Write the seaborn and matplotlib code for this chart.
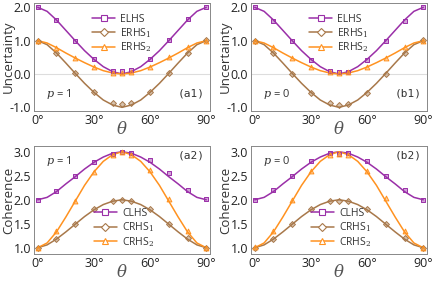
import matplotlib
matplotlib.use("Agg")
import matplotlib.pyplot as plt
import seaborn as sns
from matplotlib.colors import to_rgba
from matplotlib.lines import Line2D
from matplotlib.ticker import MultipleLocator

sns.set_theme(style="white")
plt.rcParams['font.family'] = ['Open Sans', 'DejaVu Sans']
plt.rcParams['mathtext.fontset'] = 'dejavuserif'

PURPLE = '#9a2fa8'
BROWN = '#a8784a'
ORANGE = '#ff9220'

# smooth theory curves, read every 5 degrees
theta_curve = [0, 5, 10, 15, 20, 25, 30, 35, 40, 45, 50, 55, 60, 65, 70, 75, 80, 85, 90]
elhs_curve = [2.00, 1.88, 1.62, 1.31, 1.00, 0.70, 0.44, 0.22, 0.07, 0.00,
              0.07, 0.22, 0.44, 0.70, 1.00, 1.31, 1.62, 1.88, 2.00]
erhs1_curve = [1.00, 0.88, 0.63, 0.33, 0.02, -0.28, -0.55, -0.78, -0.93, -1.00,
               -0.93, -0.78, -0.55, -0.28, 0.02, 0.33, 0.63, 0.88, 1.00]
erhs2_curve = [1.00, 0.93, 0.79, 0.63, 0.48, 0.34, 0.21, 0.10, 0.03, 0.00,
               0.03, 0.10, 0.21, 0.34, 0.48, 0.63, 0.79, 0.93, 1.00]
clhs_curve = [2.00, 2.05, 2.17, 2.33, 2.48, 2.64, 2.78, 2.89, 2.97, 3.00,
              2.97, 2.89, 2.78, 2.64, 2.48, 2.33, 2.17, 2.05, 2.00]
crhs1_curve = [1.00, 1.06, 1.18, 1.33, 1.49, 1.65, 1.79, 1.90, 1.97, 2.00,
               1.97, 1.90, 1.79, 1.65, 1.49, 1.33, 1.18, 1.06, 1.00]
crhs2_curve = [1.00, 1.10, 1.33, 1.64, 1.97, 2.30, 2.58, 2.80, 2.94, 3.00,
               2.94, 2.80, 2.58, 2.30, 1.97, 1.64, 1.33, 1.10, 1.00]

# experimental points
theta_pts = [0, 10, 20, 30, 40, 45, 50, 60, 70, 80, 90]
a1_elhs = [2.00, 1.62, 1.00, 0.44, 0.09, 0.08, 0.11, 0.45, 1.03, 1.64, 2.00]
a1_erhs1 = [1.00, 0.63, 0.02, -0.55, -0.88, -0.90, -0.88, -0.55, 0.02, 0.63, 1.03]
a1_erhs2 = [1.00, 0.79, 0.48, 0.22, 0.04, 0.03, 0.05, 0.22, 0.50, 0.80, 1.00]
b1_elhs = [2.00, 1.60, 1.00, 0.43, 0.08, 0.07, 0.07, 0.42, 0.98, 1.60, 2.00]
b1_erhs1 = [1.00, 0.63, 0.00, -0.58, -0.88, -0.92, -0.90, -0.58, 0.00, 0.62, 1.03]
b1_erhs2 = [1.00, 0.80, 0.48, 0.22, 0.05, 0.04, 0.05, 0.20, 0.48, 0.80, 1.00]
a2_clhs = [2.00, 2.19, 2.49, 2.78, 2.96, 2.99, 2.97, 2.83, 2.55, 2.21, 2.01]
a2_crhs1 = [1.00, 1.19, 1.50, 1.80, 1.97, 1.99, 1.97, 1.80, 1.50, 1.20, 1.00]
a2_crhs2 = [1.00, 1.35, 1.97, 2.57, 2.93, 2.99, 2.93, 2.61, 2.02, 1.35, 1.00]
b2_clhs = [2.00, 2.20, 2.50, 2.80, 2.97, 2.96, 2.97, 2.80, 2.50, 2.20, 1.99]
b2_crhs1 = [1.00, 1.19, 1.50, 1.80, 1.97, 1.98, 1.97, 1.80, 1.50, 1.20, 1.00]
b2_crhs2 = [1.02, 1.35, 2.00, 2.60, 2.93, 2.95, 2.93, 2.60, 2.03, 1.35, 1.00]

x_ticks = [0, 30, 60, 90]
x_ticklabels = ['0°', '30°', '60°', '90°']


def draw_panel(ax, curves, points, names, ylim, yticks, ylabel, ptext, tag,
               top_text, legend_loc, legend_anchor):
    colors = [PURPLE, BROWN, ORANGE]
    markers = ['s', 'D', '^']
    msizes = [10, 9, 12]
    for ycurve, ypts, c, m, ms in zip(curves, points, colors, markers, msizes):
        sns.lineplot(x=theta_curve, y=ycurve, ax=ax, color=c, lw=1.1)
        sns.scatterplot(x=theta_pts, y=ypts, ax=ax, marker=m, s=ms,
                        color=to_rgba(c, 0.45), edgecolor=c, linewidth=0.7, zorder=4)
    ax.set_xlim(-2, 92)
    ax.set_ylim(*ylim)
    ax.set_xticks(x_ticks)
    ax.set_xticklabels(x_ticklabels)
    ax.xaxis.set_minor_locator(MultipleLocator(10))
    ax.set_yticks(yticks)
    ax.set_yticklabels([f'{v:.1f}' for v in yticks])
    ax.yaxis.set_minor_locator(MultipleLocator(0.5 if yticks[1] - yticks[0] == 1 else 0.25))
    ax.tick_params(which='both', direction='in', colors='#555555', labelcolor='#222222',
                   labelsize=9, top=False, right=False, pad=2)
    ax.tick_params(which='major', length=3, width=0.6)
    ax.tick_params(which='minor', length=2, width=0.5)
    for sp in ax.spines.values():
        sp.set_color('#888888')
        sp.set_linewidth(0.7)
    ax.set_xlabel(r'$\theta$', fontsize=12, color='#555555', labelpad=-4)
    ax.set_ylabel(ylabel, fontsize=9.5, color='#333333')
    ax.yaxis.set_label_coords(-0.108, 0.5)
    if top_text:
        ax.text(0.07, 0.86, ptext, transform=ax.transAxes, fontsize=8, color='#333333',
                va='center')
        ax.text(0.97, 0.91, tag, transform=ax.transAxes, fontsize=8, color='#333333',
                ha='right', va='center', family='DejaVu Sans Mono')
    else:
        ax.text(0.07, 0.16, ptext, transform=ax.transAxes, fontsize=8, color='#333333',
                va='center')
        ax.text(0.97, 0.16, tag, transform=ax.transAxes, fontsize=8, color='#333333',
                ha='right', va='center', family='DejaVu Sans Mono')
    handles = [Line2D([0], [0], color=c, lw=1.1, marker=m, markersize=4,
                      markerfacecolor='white', markeredgecolor=c, markeredgewidth=0.8)
               for c, m in zip(colors, markers)]
    ax.legend(handles, names, loc=legend_loc, bbox_to_anchor=legend_anchor,
              frameon=False, fontsize=7.5, handlelength=2.2, handletextpad=0.5,
              labelspacing=0.12, borderaxespad=0, borderpad=0, labelcolor='#333333')


fig = plt.figure(figsize=(4.36, 2.81), dpi=100)
w, h = 176 / 436, 108 / 281
ax_a1 = fig.add_axes([34 / 436, 1 - 111 / 281, w, h])
ax_b1 = fig.add_axes([251 / 436, 1 - 111 / 281, w, h])
ax_a2 = fig.add_axes([34 / 436, 1 - 254 / 281, w, h])
ax_b2 = fig.add_axes([251 / 436, 1 - 254 / 281, w, h])

up_names = ['ELHS', r'ERHS$_1$', r'ERHS$_2$']
co_names = ['CLHS', r'CRHS$_1$', r'CRHS$_2$']
up_curves = [elhs_curve, erhs1_curve, erhs2_curve]
co_curves = [clhs_curve, crhs1_curve, crhs2_curve]

for ax in (ax_a1, ax_b1):
    ax.axhline(0, color='#dddddd', lw=0.8, zorder=0)

draw_panel(ax_a1, up_curves, [a1_elhs, a1_erhs1, a1_erhs2], up_names,
           (-1.11, 2.13), [-1.0, 0.0, 1.0, 2.0], 'Uncertainty', r'$p$ = 1', '(a1)',
           False, 'upper left', (0.33, 0.90))
draw_panel(ax_b1, up_curves, [b1_elhs, b1_erhs1, b1_erhs2], up_names,
           (-1.11, 2.13), [-1.0, 0.0, 1.0, 2.0], 'Uncertainty', r'$p$ = 0', '(b1)',
           False, 'upper left', (0.33, 0.90))
draw_panel(ax_a2, co_curves, [a2_clhs, a2_crhs1, a2_crhs2], co_names,
           (0.87, 3.12), [1.0, 1.5, 2.0, 2.5, 3.0], 'Coherence', r'$p$ = 1', '(a2)',
           True, 'lower left', (0.34, 0.05))
draw_panel(ax_b2, co_curves, [b2_clhs, b2_crhs1, b2_crhs2], co_names,
           (0.87, 3.12), [1.0, 1.5, 2.0, 2.5, 3.0], 'Coherence', r'$p$ = 0', '(b2)',
           True, 'lower left', (0.34, 0.05))

fig.savefig('out.png', dpi=100)
